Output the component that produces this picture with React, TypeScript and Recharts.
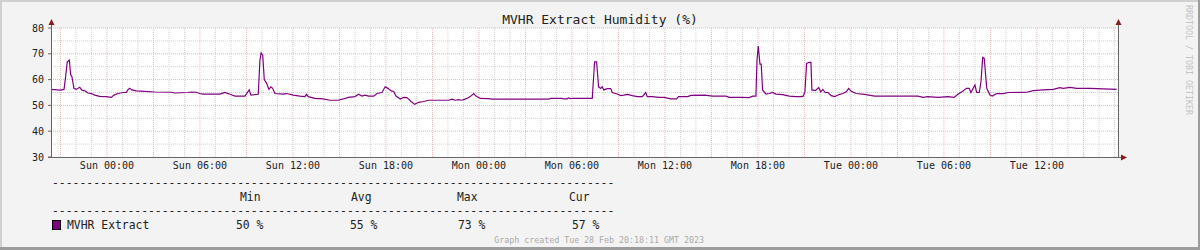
import React from "react";
import { LineChart, Line, XAxis, YAxis, CartesianGrid } from "recharts";

// hours relative to Sun 00:00
const hours = [
  -3.61, -2.99, -2.77, -2.69, -2.56, -2.43, -2.34, -2.26, -2.13, -1.98, -1.76, -1.61, -1.4, -1.23, -1.01, -0.79,
  -0.47, -0.05, 0.28, 0.45, 0.71, 1.03, 1.25, 1.35, 1.46, 1.61, 1.89, 2.43, 3.08, 4.15, 4.37, 5.23, 5.44, 5.76,
  5.98, 6.19, 7.29, 7.61, 7.94, 8.26, 8.9, 9.18, 9.29, 9.76, 9.87, 9.95, 10.05, 10.15, 10.3, 10.45, 10.58, 10.69,
  10.84, 11.37, 11.59, 12.02, 12.45, 12.77, 12.88, 12.99, 13.42, 13.95, 14.39, 14.92, 15.25, 15.57, 16.0, 16.24,
  16.45, 16.66, 16.88, 17.21, 17.42, 17.74, 17.95, 18.13, 18.34, 18.5, 18.65, 18.92, 19.14, 19.35, 19.63, 19.85,
  20.11, 20.43, 20.75, 22.05, 22.26, 22.47, 22.69, 22.9, 23.23, 23.44, 23.66, 23.81, 24.08, 24.63, 24.84, 28.52,
  28.63, 29.37, 29.48, 29.7, 29.76, 29.92, 30.02, 31.31, 31.46, 31.59, 31.72, 31.85, 31.95, 32.06, 32.28, 32.5,
  32.6, 32.92, 33.14, 33.35, 33.57, 33.89, 34.21, 34.54, 34.76, 34.86, 35.18, 35.61, 35.95, 36.39, 36.75, 36.88,
  37.46, 37.68, 38.54, 39.08, 39.94, 40.15, 40.9, 41.44, 41.66, 41.87, 41.94, 42.02, 42.13, 42.21, 42.3, 42.52,
  42.73, 42.95, 43.16, 43.59, 44.02, 44.45, 44.77, 44.92, 45.03, 45.14, 45.31, 45.42, 45.48, 45.7, 45.92, 46.05,
  46.19, 46.34, 46.52, 46.73, 46.95, 47.27, 47.48, 47.7, 47.85, 48.02, 48.34, 48.88, 49.53, 52.32, 52.65, 52.97,
  53.61, 54.26, 54.65, 54.9, 55.23, 55.46, 55.63, 55.74, 56.0, 56.11, 56.28, 56.39, 56.5, 56.6, 56.76, 56.97,
  57.12, 57.4, 57.83, 58.15, 59.34, 59.76, 60.41, 61.05, 61.48, 61.7, 62.13, 62.56, 63.42, 63.85, 65.14,
];

const humidity = [
  56.2, 55.9, 56.2, 60, 66.9, 67.6, 61.8, 61.1, 56.6, 56.2, 57, 55.9, 55.6, 54.8, 54.6, 54,
  53.5, 53.4, 53.1, 54, 54.6, 55, 55, 56, 56.6, 56, 55.6, 55.4, 55.2, 55.1, 54.8, 55, 55.2, 55.1,
  54.6, 54.4, 54.4, 55, 54.3, 53.6, 53.6, 56, 54, 54.3, 67.6, 70.4, 69.5, 60, 58.6, 56.2, 57.2, 56.6,
  54.6, 54.4, 54.6, 54, 53.6, 53.4, 54.3, 53.4, 52.7, 52.5, 52, 52, 52.5, 53.1, 53.4, 54.3,
  53.6, 54, 53.6, 53.6, 54.6, 55, 57.2, 56.6, 55.6, 55.4, 53.6, 52.5, 53.1, 53, 51.5, 50.4,
  51.2, 51.5, 52, 52, 52.4, 52, 52.2, 52, 52.7, 53.4, 54.6, 53.6, 52.7, 52.6, 52.4, 52.4,
  52.7, 52.7, 52.5, 52.5, 52.9, 52.6, 52.7, 52.7, 66.9, 66.9, 57.2, 56.6, 57.2, 56, 56.5, 56.5,
  55, 54.4, 53.8, 54, 54.3, 53.8, 53.4, 53.4, 55, 53.4, 53.4, 53.1, 53.1, 52.5, 52.5, 53.4,
  53.4, 53.9, 54, 53.6, 53.6, 53.1, 53.1, 53, 53.6, 53.6, 67.6, 73, 66, 66, 56, 54.4,
  54.6, 55, 54.4, 54.2, 53.6, 53.4, 53.4, 53.6, 55.2, 66.3, 66.7, 66.7, 56, 55.7, 56.9, 55.2,
  56.2, 55, 55, 53.8, 53.4, 54.3, 54.6, 55.3, 56.6, 55.5, 54.6, 54.3, 53.6, 53.6, 53.1, 53.4,
  53.1, 53.4, 53.1, 54.3, 55.6, 56.6, 56.6, 55, 57.9, 55, 55, 59.2, 68.6, 68.2, 56.6, 54,
  53.6, 54.6, 54.6, 55, 55.1, 55.7, 56, 56.2, 56.9, 56.6, 57, 56.6, 56.6, 56.5, 56.2,
];

const xTicks = [0, 6, 12, 18, 24, 30, 36, 42, 48, 54, 60];
const xTickLabels = [
  "Sun 00:00", "Sun 06:00", "Sun 12:00", "Sun 18:00", "Mon 00:00", "Mon 06:00",
  "Mon 12:00", "Mon 18:00", "Tue 00:00", "Tue 06:00", "Tue 12:00",
];
const yTicks = [30, 40, 50, 60, 70, 80];
const yMinor = [35, 45, 55, 65, 75];
const yMajor = [40, 50, 60, 70, 80];

const legendHeaders = ["Min", "Avg", "Max", "Cur"];
const legendValues = ["50 %", "55 %", "73 %", "57 %"];
const legendCols = [240, 351, 457, 569];
const valueCols = [236, 350, 458, 572];

const hourMajor: number[] = [];
const hourMinor: number[] = [];
for (let h = -3; h <= 65; h++) {
  if (h % 3 === 0) hourMajor.push(h);
  else hourMinor.push(h);
}

const mono = "'DejaVu Sans Mono', monospace";
const lineColor = "#800080";

export default function App() {
  const data = hours.map((h, i) => ({ h, v: humidity[i] }));

  return (
    <div style={{ position: "absolute", left: 0, top: 0, width: 1200, height: 250, background: "#f3f3f3", overflow: "hidden" }}>
      <LineChart width={1200} height={250} data={data} margin={{ top: 28, right: 0, bottom: 73, left: 0 }}>
        <CartesianGrid fill="#ffffff" stroke="#d2d2d2" strokeDasharray="1 1" horizontalValues={yMinor} verticalValues={hourMinor} />
        <CartesianGrid stroke="#f0b4b4" strokeDasharray="1 1" horizontalValues={yMajor} verticalValues={hourMajor} />
        <XAxis
          dataKey="h"
          type="number"
          domain={[-3.61, 65.23]}
          allowDataOverflow
          ticks={xTicks}
          interval={0}
          tickFormatter={(t) => xTickLabels[xTicks.indexOf(t)] ?? ""}
          height={20}
          axisLine={false}
          tickLine={false}
          tickSize={0}
          tickMargin={5}
          tick={{ fontSize: 10, fill: "#222", fontFamily: mono }}
        />
        <YAxis
          domain={[30, 80]}
          ticks={yTicks}
          interval={0}
          width={51}
          axisLine={false}
          tickLine={{ stroke: "#666" }}
          tickSize={3}
          tickMargin={4}
          tick={{ fontSize: 10, fill: "#222", fontFamily: mono }}
        />
        <YAxis
          yAxisId="right"
          orientation="right"
          domain={[30, 80]}
          ticks={yTicks}
          interval={0}
          width={82}
          axisLine={false}
          tickLine={{ stroke: "#666" }}
          tickSize={3}
          tickMargin={5}
          tick={{ fontSize: 10, fill: "#222", fontFamily: mono }}
        />
        <Line type="linear" dataKey="v" stroke={lineColor} strokeWidth={1.2} dot={false} isAnimationActive={false} />
      </LineChart>

      <svg width={1200} height={250} style={{ position: "absolute", left: 0, top: 0, pointerEvents: "none" }}>
        {/* frame */}
        <rect x={0} y={0} width={1200} height={2} fill="#d0d0d0" />
        <rect x={0} y={0} width={2} height={250} fill="#d0d0d0" />
        <rect x={0} y={247} width={1200} height={3} fill="#9c9c9c" />
        <rect x={1198} y={0} width={2} height={250} fill="#9c9c9c" />

        {/* axes + arrows */}
        <line x1={51.5} y1={157} x2={51.5} y2={24} stroke="#666" />
        <line x1={1118.5} y1={157} x2={1118.5} y2={24} stroke="#666" />
        <line x1={48} y1={157.5} x2={1122} y2={157.5} stroke="#666" />
        <polygon points="48.5,25 54.5,25 51.5,19" fill="#8b1a1a" />
        <polygon points="1115.5,25 1121.5,25 1118.5,19" fill="#8b1a1a" />
        <polygon points="1121,154.5 1121,160.5 1127,157.5" fill="#8b1a1a" />

        <text x={600} y={19} textAnchor="middle" dominantBaseline="central" fontFamily={mono} fontSize={13} fill="#222">
          MVHR Extract Humidity (%)
        </text>

        <text x={1189} y={5} transform="rotate(90 1189 5)" dominantBaseline="central" fontFamily={mono} fontSize={8.3} fill="#c4c4c4">
          RRDTOOL / TOBI OETIKER
        </text>

        {/* legend */}
        <text x={52} y={183} dominantBaseline="central" fontFamily={mono} fontSize={11.4} fill="#222">
          {"-".repeat(82)}
        </text>
        {legendHeaders.map((t, i) => (
          <text key={t} x={legendCols[i]} y={197} dominantBaseline="central" fontFamily={mono} fontSize={11.4} fill="#222">
            {t}
          </text>
        ))}
        <text x={52} y={211} dominantBaseline="central" fontFamily={mono} fontSize={11.4} fill="#222">
          {"-".repeat(82)}
        </text>
        <rect x={52.5} y={220.5} width={8} height={9} fill={lineColor} stroke="#000" />
        <text x={67} y={225} dominantBaseline="central" fontFamily={mono} fontSize={11.4} fill="#222">
          MVHR Extract
        </text>
        {legendValues.map((t, i) => (
          <text key={i} x={valueCols[i]} y={225} dominantBaseline="central" fontFamily={mono} fontSize={11.4} fill="#222">
            {t}
          </text>
        ))}
        <text x={704} y={240} textAnchor="end" dominantBaseline="central" fontFamily={mono} fontSize={8.3} fill="#aaa">
          Graph created Tue 28 Feb 20:18:11 GMT 2023
        </text>
      </svg>
    </div>
  );
}
